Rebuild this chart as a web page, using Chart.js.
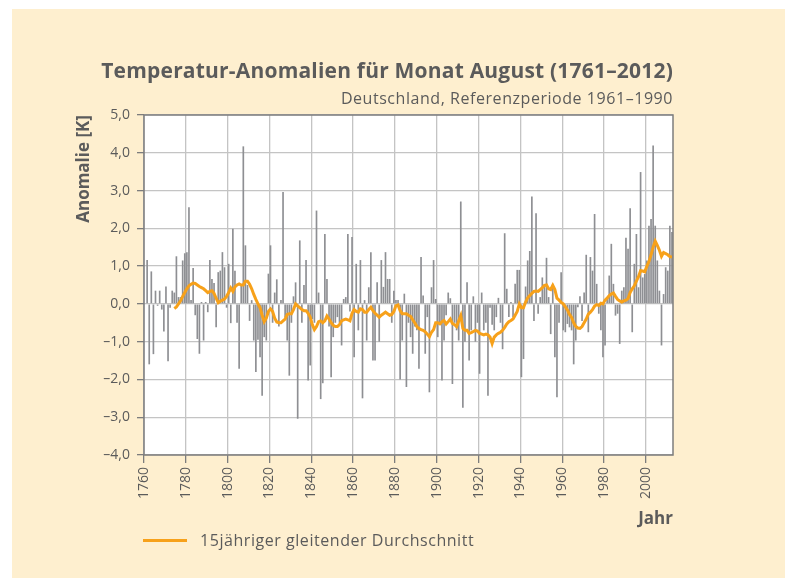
<!DOCTYPE html>
<html>
<head>
<meta charset="utf-8">
<script src="https://cdn.jsdelivr.net/npm/chart.js@4.4.1/dist/chart.umd.min.js"></script>
<style>
  html, body { margin: 0; padding: 0; background: #ffffff; }
  body { width: 785px; height: 578px; position: relative; overflow: hidden; font-family: 'Open Sans', sans-serif; }
  .panel { position: absolute; left: 12px; top: 9px; width: 773px; height: 569px; background: #feefcf; }
  #chart { position: absolute; left: 0; top: 0; }
  .title { position: absolute; right: 112px; top: 57px; font-size: 21px; line-height: 26px; font-weight: bold; letter-spacing: 0.2px; color: #5b5b5b; white-space: nowrap; }
  .subtitle { position: absolute; right: 112px; top: 88px; font-size: 16px; line-height: 20px; letter-spacing: 0.55px; color: #5b5b5b; white-space: nowrap; }
  .legend { position: absolute; left: 143px; top: 529px; height: 22px; font-size: 16px; line-height: 22px; letter-spacing: 0.55px; color: #5b5b5b; white-space: nowrap; }
  .legend .swatch { display: inline-block; width: 44px; height: 3px; background: #f7a11a; vertical-align: middle; margin-right: 13px; position: relative; top: -1px; }
</style>
</head>
<body>
<div class="panel"></div>
<canvas id="chart" width="785" height="578"></canvas>
<div class="title">Temperatur-Anomalien für Monat August (1761–2012)</div>
<div class="subtitle">Deutschland, Referenzperiode 1961–1990</div>
<div class="legend"><span class="swatch"></span>15jähriger gleitender Durchschnitt</div>
<script>
// August-Anomalien 1761-2012 (K)
const firstYear = 1761;
const anomalies = [
   1.16, -1.60,  0.86, -1.33,  0.35, -0.05,  0.35, -0.15, -0.73,  0.46,
  -1.52, -0.10,  0.35,  0.30,  1.26,  0.18,  0.18,  1.15,  1.34,  1.37,
   2.56,  0.10,  0.95, -0.30, -0.93, -1.32,  0.05, -0.97,  0.05, -0.22,
   1.16,  0.66,  0.55, -0.62,  0.84,  0.88,  1.37,  0.97, -0.10,  1.06,
  -0.51,  1.99,  0.88, -0.50, -1.72,  0.50,  4.17,  1.55,  0.50, -0.45,
   0.10, -0.97, -1.80, -0.95, -1.41, -2.43, -0.88, -0.97,  0.80,  1.55,
  -0.50,  0.30,  0.65, -0.60,  0.10,  2.96, -0.35, -0.97, -1.90, -0.50,
   0.20,  0.57, -3.04,  1.68, -0.50,  0.50,  1.16, -2.03, -1.63, -0.40,
  -0.50,  2.47,  0.30, -2.52, -2.10,  1.85,  0.66, -0.60, -1.94, -0.88,
  -0.50, -0.35, -0.50, -1.10,  0.13,  0.18,  1.85, -0.20,  1.77, -1.41,
   1.06, -0.70,  1.16, -2.50,  0.10, -0.97,  0.44,  1.37, -1.50, -1.50,
   0.57, -1.00,  1.16,  0.45,  1.37,  0.66,  0.66, -0.50,  0.35,  0.10,
   0.10, -2.00, -0.97,  0.27, -2.20, -0.50, -0.88, -1.32, -0.60, -0.70,
  -1.72,  1.24,  0.22, -1.32, -0.35, -2.34,  0.44,  1.16,  0.13, -0.88,
  -0.50, -2.03, -0.97, -0.30,  0.30,  0.15, -2.12, -0.50, -0.70, -0.97,
   2.71, -2.75, -1.00,  0.57, -1.50, -0.70,  0.20, -1.00, -0.50, -1.85,
   0.30, -0.70, -0.50, -2.43, -0.10, -0.55, -0.70, -0.35,  0.16, -0.50,
  -1.20,  1.87,  0.40, -0.35,  0.05, -0.35,  0.53,  0.90,  0.90, -1.94,
  -1.46,  0.46,  1.15,  1.40,  2.84, -0.45,  2.40, -0.26,  0.18,  0.70,
   0.50,  1.22,  0.18, -0.80,  0.53, -1.41, -2.47, -0.50,  0.84, -0.70,
  -0.75, -0.53, -0.62, -0.70, -1.60, -0.97, -0.09,  0.20, -0.45,  0.30,
   1.30, -0.75,  1.24,  0.88,  2.38,  0.53, -0.26, -0.70, -1.41, -1.10,
   0.13,  0.75,  1.59,  0.53, -0.31, -0.26, -1.06,  0.35,  0.44,  1.75,
   1.46,  2.53, -0.75,  1.06,  1.85,  0.44,  3.49,  0.70,  0.79,  1.15,
   2.07,  2.25,  4.19,  2.07,  1.15,  0.35, -1.10,  0.26,  0.97,  0.88,
   2.07,  1.90
];

const avgFirstYear = 1774;
const movingAvg = [
                                           -0.12, -0.08,  0.00,  0.08,  0.20,  0.30,  0.40,
   0.48,  0.52,  0.55,  0.54,  0.50,  0.46,  0.43,  0.40,  0.35,  0.30,
   0.33,  0.35,  0.28,  0.15,  0.03,  0.07,  0.10,  0.13,  0.20,  0.30,
   0.42,  0.33,  0.45,  0.50,  0.53,  0.50,  0.50,  0.60,  0.60,  0.52,
   0.40,  0.25,  0.12,  0.00, -0.10, -0.30, -0.47, -0.38, -0.20, -0.13,
  -0.20, -0.38, -0.48, -0.50, -0.50, -0.45, -0.40, -0.28, -0.26, -0.26,
  -0.15,  0.00, -0.05, -0.10, -0.15, -0.18, -0.18, -0.25, -0.35, -0.55,
  -0.68, -0.60, -0.47, -0.45, -0.50, -0.45, -0.32, -0.40, -0.50, -0.57,
  -0.60, -0.60, -0.55, -0.45, -0.42, -0.40, -0.42, -0.45, -0.25, -0.15,
  -0.20, -0.22, -0.13, -0.15, -0.22, -0.22, -0.15, -0.09, -0.18, -0.25,
  -0.30, -0.35, -0.30, -0.26, -0.22, -0.26, -0.30, -0.28, -0.20, -0.05,
  -0.03, -0.18, -0.26, -0.26, -0.26, -0.30, -0.33, -0.42, -0.50, -0.60,
  -0.65, -0.68, -0.70, -0.74, -0.80, -0.87, -0.75, -0.68, -0.50, -0.50,
  -0.53, -0.47, -0.44, -0.53, -0.47, -0.40, -0.52, -0.55, -0.60, -0.45,
  -0.31, -0.65, -0.70, -0.70, -0.78, -0.76, -0.73, -0.70, -0.72, -0.78,
  -0.80, -0.82, -0.80, -0.82, -0.88, -1.05, -0.88, -0.82, -0.78, -0.75,
  -0.70, -0.62, -0.53, -0.47, -0.44, -0.40, -0.30, -0.20,  0.00, -0.10,
  -0.10,  0.05,  0.16,  0.22,  0.28,  0.33,  0.34,  0.33,  0.38,  0.43,
   0.49,  0.50,  0.40,  0.38,  0.49,  0.38,  0.15,  0.10,  0.04,  0.00,
  -0.08, -0.16, -0.28, -0.36, -0.50, -0.60, -0.64, -0.65, -0.60, -0.50,
  -0.40, -0.27, -0.22, -0.15, -0.06, -0.02, -0.04,  0.02,  0.00,  0.10,
   0.15,  0.22,  0.26,  0.29,  0.20,  0.12,  0.08,  0.05,  0.08,  0.10,
   0.14,  0.30,  0.40,  0.48,  0.60,  0.72,  0.88,  0.87,  0.85,  1.00,
   1.12,  1.30,  1.50,  1.66,  1.55,  1.42,  1.26,  1.36,  1.33,  1.30,
   1.25,  1.24
];

const axisMin = 1760;
const axisMax = 2013;
const textColor = '#5b5b5b';
const fontFamily = "'Open Sans', sans-serif";

// balken/linie jeweils in der Jahresmitte
const barData = anomalies.map((v, i) => ({ x: firstYear + i + 0.5, y: v }));
const avgData = movingAvg.map((v, i) => ({ x: avgFirstYear + i + 0.5, y: v }));

function fmt(v) {
    const s = Math.abs(v).toFixed(1).replace('.', ',');
    return v < 0 ? '\u2013' + s : s;
}

const plotFrame = {
    id: 'plotFrame',
    beforeDraw(chart) {
        const a = chart.chartArea;
        const ctx = chart.ctx;
        ctx.save();
        ctx.fillStyle = '#ffffff';
        ctx.fillRect(a.left, a.top, a.right - a.left, a.bottom - a.top);
        ctx.restore();
    },
    afterDatasetsDraw(chart) {
        const a = chart.chartArea;
        const ctx = chart.ctx;
        ctx.save();
        ctx.strokeStyle = '#7d7d7d';
        ctx.lineWidth = 1.5;
        ctx.strokeRect(a.left, a.top, a.right - a.left, a.bottom - a.top);
        ctx.restore();
    }
};

Chart.defaults.font.family = fontFamily;
Chart.defaults.color = textColor;

new Chart(document.getElementById('chart'), {
    data: {
        datasets: [
            {
                type: 'line',
                label: '15jähriger gleitender Durchschnitt',
                data: avgData,
                borderColor: '#f7a11a',
                borderWidth: 3,
                pointRadius: 0,
                tension: 0,
                order: 0
            },
            {
                type: 'bar',
                label: 'Anomalie',
                data: barData,
                backgroundColor: '#8e8f93',
                barPercentage: 0.8,
                categoryPercentage: 1,
                order: 1
            }
        ]
    },
    options: {
        responsive: false,
        animation: false,
        devicePixelRatio: 1,
        layout: { padding: { left: 0, top: 115, right: 112, bottom: 0 } },
        plugins: {
            legend: { display: false },
            tooltip: { enabled: false }
        },
        scales: {
            x: {
                type: 'linear',
                min: axisMin,
                max: axisMax,
                offset: false,
                afterFit(scale) { scale.height = 123; },
                grid: { offset: false, color: '#c4c4c4', lineWidth: 1.3, tickColor: '#7d7d7d', tickLength: 8 },
                border: { display: false },
                ticks: {
                    stepSize: 20,
                    includeBounds: false,
                    minRotation: 90,
                    maxRotation: 90,
                    padding: 4,
                    font: { size: 14 },
                    color: textColor,
                    callback: v => String(v)
                },
                title: {
                    display: true,
                    text: 'Jahr',
                    align: 'end',
                    font: { size: 17, weight: 'bold' },
                    color: textColor,
                    padding: { top: 0, bottom: 49 }
                }
            },
            y: {
                min: -4,
                max: 5,
                afterFit(scale) { scale.width = 144; },
                grid: { color: '#c4c4c4', lineWidth: 1.3, tickColor: '#7d7d7d', tickLength: 7 },
                border: { display: false },
                ticks: {
                    stepSize: 1,
                    padding: 7,
                    font: { size: 14 },
                    color: textColor,
                    callback: v => fmt(v)
                },
                title: {
                    display: true,
                    text: 'Anomalie [K]',
                    align: 'end',
                    font: { size: 17, weight: 'bold' },
                    color: textColor,
                    padding: { top: 74, bottom: 0 }
                }
            }
        }
    },
    plugins: [plotFrame]
});
</script>
</body>
</html>
